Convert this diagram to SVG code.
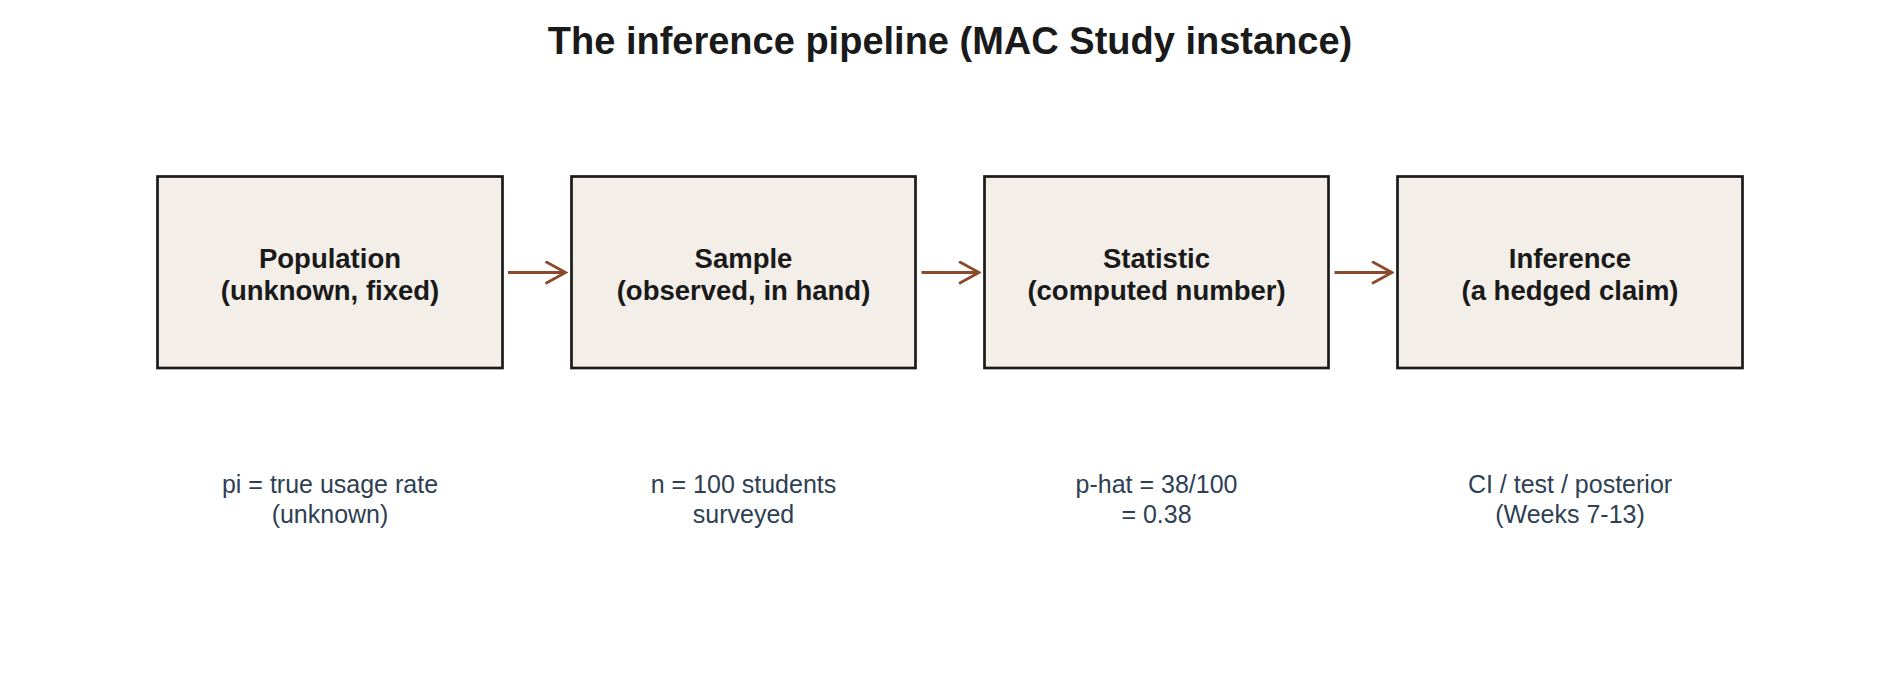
<svg xmlns="http://www.w3.org/2000/svg" width="1900" height="700" viewBox="0 0 1900 700">
  <style>
    .title { font-family: "Liberation Sans", Arial, sans-serif; font-weight: bold; font-size: 38px; fill: #1a1a1a; }
    .box { fill: #F3EEE8; stroke: #1a1a1a; stroke-width: 2.7; }
    .btext { font-family: "Liberation Sans", Arial, sans-serif; font-weight: bold; font-size: 27.5px; fill: #1a1a1a; }
    .label { font-family: "Liberation Sans", Arial, sans-serif; font-size: 25px; fill: #2E4053; }
    .conn { stroke: #8B4A2B; stroke-width: 2.8; fill: none; }
  </style>
  <defs>
    <marker id="arrow" viewBox="0 0 24 24" refX="22" refY="12" markerWidth="24" markerHeight="24" markerUnits="userSpaceOnUse" orient="auto">
      <path d="M2,1 L22,12 L2,23" fill="none" stroke="#8B4A2B" stroke-width="2.8"/>
    </marker>
  </defs>
  <rect width="1900" height="700" fill="#ffffff"/>
  <text class="title" x="950" y="54" text-anchor="middle">The inference pipeline (MAC Study instance)</text>

  <g id="connectors">
    <line class="conn" x1="508" y1="272.5" x2="565.5" y2="272.5" marker-end="url(#arrow)"/>
    <line class="conn" x1="921.5" y1="272.5" x2="979" y2="272.5" marker-end="url(#arrow)"/>
    <line class="conn" x1="1334.5" y1="272.5" x2="1392" y2="272.5" marker-end="url(#arrow)"/>
  </g>

  <g id="population">
    <rect class="box" x="157.5" y="176.5" width="345" height="191.5"/>
    <text class="btext" x="330" y="268" text-anchor="middle">Population</text>
    <text class="btext" x="330" y="299.5" text-anchor="middle">(unknown, fixed)</text>
    <text class="label" x="330" y="492.5" text-anchor="middle">pi = true usage rate</text>
    <text class="label" x="330" y="522.5" text-anchor="middle">(unknown)</text>
  </g>

  <g id="sample">
    <rect class="box" x="571.5" y="176.5" width="344" height="191.5"/>
    <text class="btext" x="743.5" y="268" text-anchor="middle">Sample</text>
    <text class="btext" x="743.5" y="299.5" text-anchor="middle">(observed, in hand)</text>
    <text class="label" x="743.5" y="492.5" text-anchor="middle">n = 100 students</text>
    <text class="label" x="743.5" y="522.5" text-anchor="middle">surveyed</text>
  </g>

  <g id="statistic">
    <rect class="box" x="984.5" y="176.5" width="344" height="191.5"/>
    <text class="btext" x="1156.5" y="268" text-anchor="middle">Statistic</text>
    <text class="btext" x="1156.5" y="299.5" text-anchor="middle">(computed number)</text>
    <text class="label" x="1156.5" y="492.5" text-anchor="middle">p-hat = 38/100</text>
    <text class="label" x="1156.5" y="522.5" text-anchor="middle">= 0.38</text>
  </g>

  <g id="inference">
    <rect class="box" x="1397.5" y="176.5" width="345" height="191.5"/>
    <text class="btext" x="1570" y="268" text-anchor="middle">Inference</text>
    <text class="btext" x="1570" y="299.5" text-anchor="middle">(a hedged claim)</text>
    <text class="label" x="1570" y="492.5" text-anchor="middle">CI / test / posterior</text>
    <text class="label" x="1570" y="522.5" text-anchor="middle">(Weeks 7-13)</text>
  </g>
</svg>
